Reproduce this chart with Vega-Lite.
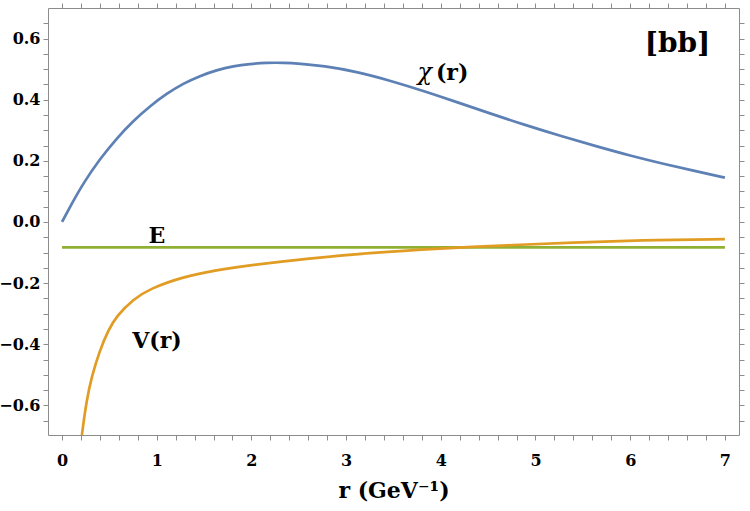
{
  "$schema": "https://vega.github.io/schema/vega-lite/v6.json",
  "width": 691,
  "height": 427,
  "autosize": {"type": "none"},
  "padding": {"left": 48, "top": 8, "right": 11, "bottom": 76},
  "background": "white",
  "config": {
    "view": {"stroke": "#8c8c8c", "strokeWidth": 1},
    "axis": {"grid": false, "domain": false, "labelFont": "DejaVu Serif", "labelFontWeight": "bold", "labelColor": "black", "titleFont": "DejaVu Serif", "titleFontWeight": "bold", "titleColor": "black", "tickColor": "#8c8c8c", "tickWidth": 1}
  },
  "datasets": {
    "curves": [
      {"r": 0, "v": 0, "s": "chi"},
      {"r": 0.1, "v": 0.058, "s": "chi"},
      {"r": 0.225, "v": 0.127, "s": "chi"},
      {"r": 0.4, "v": 0.206, "s": "chi"},
      {"r": 0.578, "v": 0.274, "s": "chi"},
      {"r": 0.753, "v": 0.331, "s": "chi"},
      {"r": 0.929, "v": 0.379, "s": "chi"},
      {"r": 1.106, "v": 0.42, "s": "chi"},
      {"r": 1.281, "v": 0.453, "s": "chi"},
      {"r": 1.457, "v": 0.478, "s": "chi"},
      {"r": 1.633, "v": 0.497, "s": "chi"},
      {"r": 1.81, "v": 0.51, "s": "chi"},
      {"r": 1.985, "v": 0.517, "s": "chi"},
      {"r": 2.16, "v": 0.521, "s": "chi"},
      {"r": 2.34, "v": 0.521, "s": "chi"},
      {"r": 2.51, "v": 0.518, "s": "chi"},
      {"r": 2.76, "v": 0.511, "s": "chi"},
      {"r": 3.11, "v": 0.492, "s": "chi"},
      {"r": 3.46, "v": 0.463, "s": "chi"},
      {"r": 3.815, "v": 0.429, "s": "chi"},
      {"r": 4.17, "v": 0.392, "s": "chi"},
      {"r": 4.52, "v": 0.355, "s": "chi"},
      {"r": 4.87, "v": 0.319, "s": "chi"},
      {"r": 5.29, "v": 0.279, "s": "chi"},
      {"r": 5.65, "v": 0.247, "s": "chi"},
      {"r": 6.0, "v": 0.217, "s": "chi"},
      {"r": 6.35, "v": 0.19, "s": "chi"},
      {"r": 6.7, "v": 0.166, "s": "chi"},
      {"r": 7.0, "v": 0.145, "s": "chi"},
      {"r": 0, "v": -0.083, "s": "E"},
      {"r": 7, "v": -0.083, "s": "E"},
      {"r": 0.2, "v": -0.725, "s": "V"},
      {"r": 0.208, "v": -0.7, "s": "V"},
      {"r": 0.26, "v": -0.582, "s": "V"},
      {"r": 0.313, "v": -0.506, "s": "V"},
      {"r": 0.4, "v": -0.419, "s": "V"},
      {"r": 0.49, "v": -0.353, "s": "V"},
      {"r": 0.578, "v": -0.307, "s": "V"},
      {"r": 0.753, "v": -0.253, "s": "V"},
      {"r": 0.93, "v": -0.218, "s": "V"},
      {"r": 1.28, "v": -0.179, "s": "V"},
      {"r": 1.63, "v": -0.158, "s": "V"},
      {"r": 1.9, "v": -0.145, "s": "V"},
      {"r": 2.58, "v": -0.12, "s": "V"},
      {"r": 3.29, "v": -0.1, "s": "V"},
      {"r": 3.99, "v": -0.087, "s": "V"},
      {"r": 4.7, "v": -0.076, "s": "V"},
      {"r": 5.4, "v": -0.067, "s": "V"},
      {"r": 6.1, "v": -0.06, "s": "V"},
      {"r": 7.0, "v": -0.056, "s": "V"}
    ],
    "labelsBold": [
      {"r": 1.003, "v": -0.069, "t": "E"},
      {"r": 1.003, "v": -0.412, "t": "V(r)"},
      {"r": 4.12, "v": 0.4645, "t": "(r)"}
    ],
    "labelsItalic": [
      {"r": 3.83, "v": 0.4645, "t": "χ"}
    ],
    "labelsBig": [
      {"r": 6.5, "v": 0.557, "t": "[bb]"}
    ]
  },
  "resolve": {"axis": {"x": "independent", "y": "independent"}},
  "layer": [
    {
      "data": {"name": "curves"},
      "mark": {"type": "line", "strokeWidth": 2.7, "clip": true, "interpolate": "basis"},
      "encoding": {
        "x": {"field": "r", "type": "quantitative", "scale": {"domain": [-0.148, 7.149], "nice": false, "zero": false},
              "axis": {"orient": "bottom", "values": [0, 0.2, 0.4, 0.6, 0.8, 1, 1.2, 1.4, 1.6, 1.8, 2, 2.2, 2.4, 2.6, 2.8, 3, 3.2, 3.4, 3.6, 3.8, 4, 4.2, 4.4, 4.6, 4.8, 5, 5.2, 5.4, 5.6, 5.8, 6, 6.2, 6.4, 6.6, 6.8, 7], "labelExpr": "abs(round(datum.value) - datum.value) < 0.001 ? format(datum.value, 'd') : ''", "ticks": true, "tickSize": 5, "labelPadding": 12, "labelFontSize": 16, "title": "r (GeV⁻¹)", "titleFontSize": 22, "titlePadding": 12}},
        "y": {"field": "v", "type": "quantitative", "scale": {"domain": [-0.697, 0.7], "nice": false, "zero": false},
              "axis": {"orient": "left", "values": [-0.65, -0.6, -0.55, -0.5, -0.45, -0.4, -0.35, -0.3, -0.25, -0.2, -0.15, -0.1, -0.05, 0, 0.05, 0.1, 0.15, 0.2, 0.25, 0.3, 0.35, 0.4, 0.45, 0.5, 0.55, 0.6, 0.65], "format": ".2f", "labelExpr": "abs(round(datum.value * 5) - datum.value * 5) < 0.001 ? format(datum.value, '.1f') : ''", "ticks": true, "tickSize": 5, "labelPadding": 3, "labelFontSize": 16, "title": null}},
        "color": {"field": "s", "type": "nominal", "scale": {"domain": ["chi", "V", "E"], "range": ["#5E81B5", "#E19C24", "#8FB032"]}, "legend": null}
      }
    },
    {
      "data": {"name": "curves"},
      "mark": {"type": "point", "opacity": 0},
      "encoding": {
        "x": {"field": "r", "type": "quantitative", "axis": {"orient": "top", "values": [0, 0.2, 0.4, 0.6, 0.8, 1, 1.2, 1.4, 1.6, 1.8, 2, 2.2, 2.4, 2.6, 2.8, 3, 3.2, 3.4, 3.6, 3.8, 4, 4.2, 4.4, 4.6, 4.8, 5, 5.2, 5.4, 5.6, 5.8, 6, 6.2, 6.4, 6.6, 6.8, 7], "labelExpr": "''", "tickSize": 5, "title": null}},
        "y": {"field": "v", "type": "quantitative", "axis": {"orient": "right", "values": [-0.65, -0.6, -0.55, -0.5, -0.45, -0.4, -0.35, -0.3, -0.25, -0.2, -0.15, -0.1, -0.05, 0, 0.05, 0.1, 0.15, 0.2, 0.25, 0.3, 0.35, 0.4, 0.45, 0.5, 0.55, 0.6, 0.65], "labelExpr": "''", "tickSize": 5, "title": null}}
      }
    },
    {
      "mark": {"type": "rule", "color": "#b8b8b8", "strokeWidth": 1.3},
      "encoding": {"y": {"datum": 0, "type": "quantitative", "axis": null}}
    },
    {
      "data": {"name": "labelsBold"},
      "mark": {"type": "text", "font": "DejaVu Serif", "fontWeight": "bold", "fontSize": 22, "align": "center", "baseline": "alphabetic", "color": "black"},
      "encoding": {
        "x": {"field": "r", "type": "quantitative", "axis": null},
        "y": {"field": "v", "type": "quantitative", "axis": null},
        "text": {"field": "t"}
      }
    },
    {
      "data": {"name": "labelsItalic"},
      "mark": {"type": "text", "font": "DejaVu Serif", "fontStyle": "italic", "fontSize": 24, "align": "center", "baseline": "alphabetic", "color": "black"},
      "encoding": {
        "x": {"field": "r", "type": "quantitative", "axis": null},
        "y": {"field": "v", "type": "quantitative", "axis": null},
        "text": {"field": "t"}
      }
    },
    {
      "data": {"name": "labelsBig"},
      "mark": {"type": "text", "font": "DejaVu Serif", "fontWeight": "bold", "fontSize": 28, "align": "center", "baseline": "alphabetic", "color": "black"},
      "encoding": {
        "x": {"field": "r", "type": "quantitative", "axis": null},
        "y": {"field": "v", "type": "quantitative", "axis": null},
        "text": {"field": "t"}
      }
    }
  ]
}
